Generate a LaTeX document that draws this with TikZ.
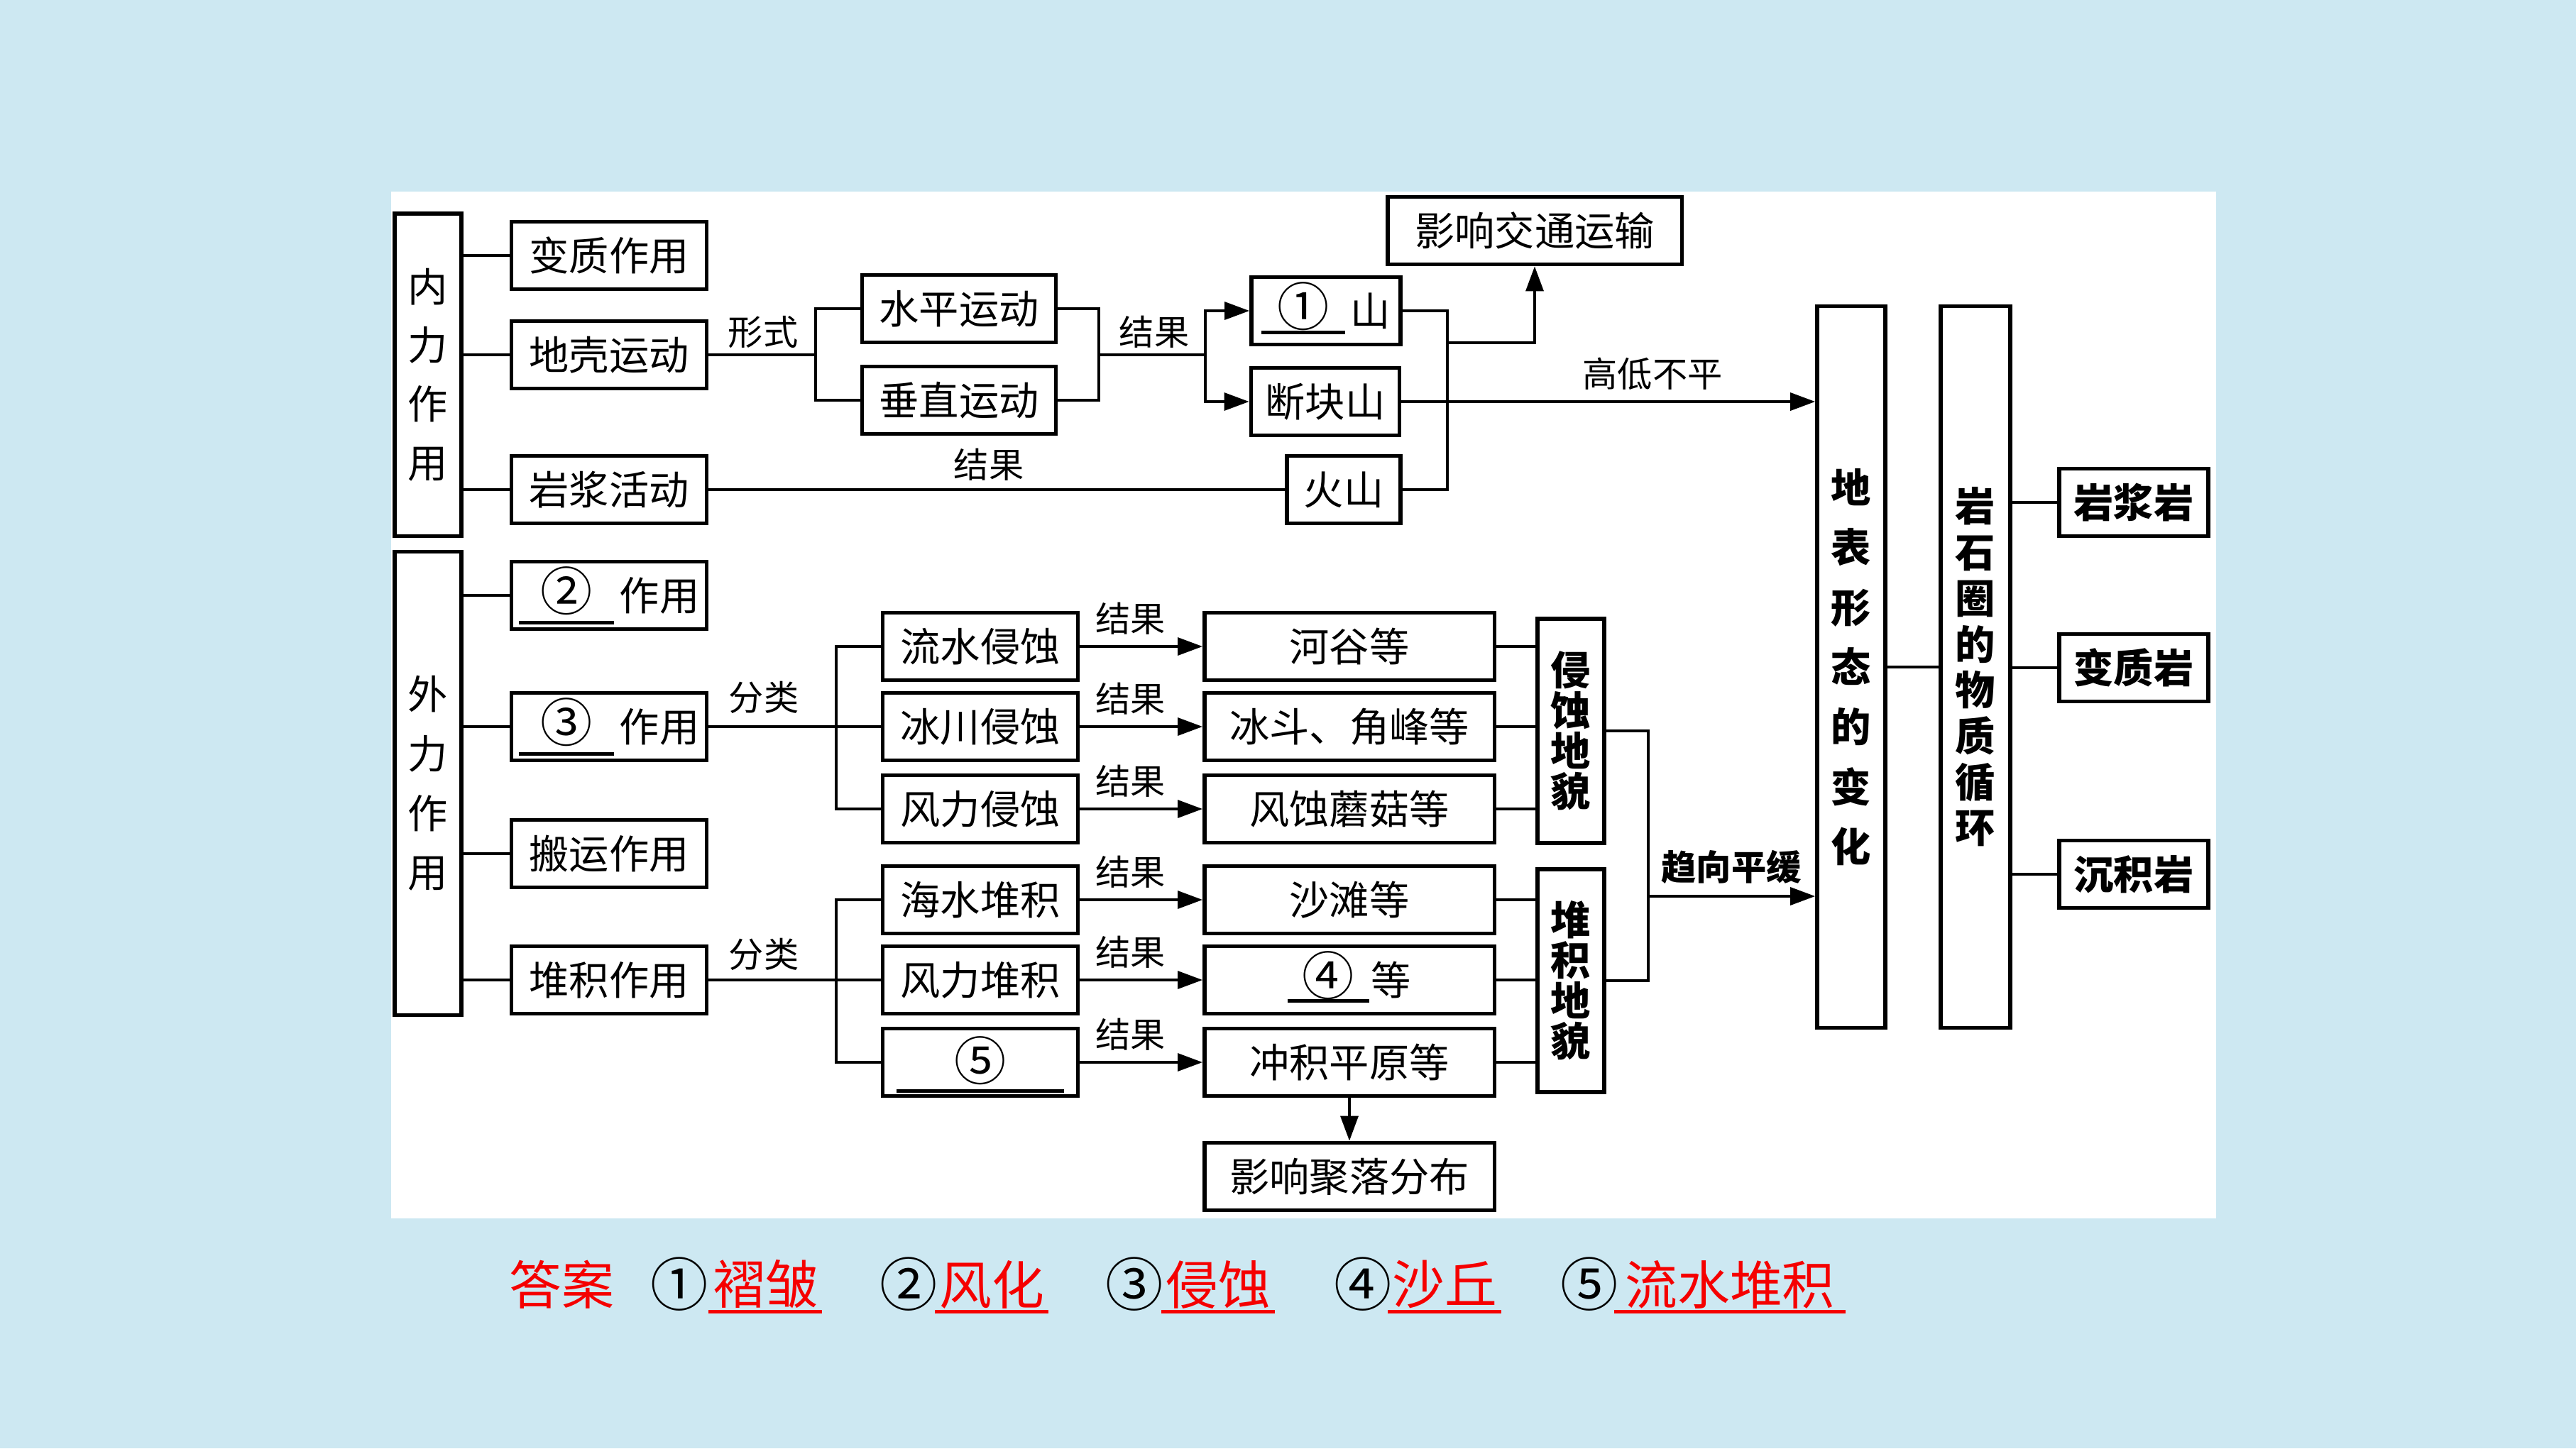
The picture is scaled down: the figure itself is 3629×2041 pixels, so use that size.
\documentclass[tikz,border=0pt]{standalone}
\usepackage{fontspec}
\setmainfont{Noto Sans CJK SC}
\usepackage{graphicx}
\usepackage{tikz}
\usetikzlibrary{arrows.meta}

\definecolor{bgblue}{RGB}{205,232,242}
\definecolor{ansred}{RGB}{245,0,0}
\newcommand{\boxfont}{\fontsize{16}{23.5}\selectfont}
\newcommand{\labfont}{\fontsize{14}{16}\selectfont}
% blank with underline: width, rule raise, text
\newcommand{\blank}[3]{\makebox[#1]{#3}\llap{\smash{\rule[#2]{#1}{1.4pt}}}}
\newcommand{\circnum}[1]{\smash{\scalebox{1.3}{#1}}}

\begin{document}
\begin{tikzpicture}[x=0.01cm, y=-0.01cm,
	box/.style={draw, line width=1.5pt, inner sep=0pt, minimum height=0.95cm, font=\boxfont},
	tall/.style={box, minimum width=0.94cm, align=center},
	lab/.style={inner sep=1pt, font=\labfont},
	conn/.style={line width=1.3pt},
	arr/.style={conn, -{Triangle[length=10pt,width=7pt]}},
	ans/.style={inner sep=0pt, font=\fontsize{21}{24}\selectfont},
	]
	%\draw[help lines] (0,0) grid[step=100] (3629,2041);
	\fill[bgblue] (0,0) rectangle (3629,2041);
	\useasboundingbox (0,0) rectangle (3629,2041);
	\fill[white] (551,270) rectangle (3122,1717);

	% endogenic part
	\node[tall, minimum height=4.54cm] (neili) at (603,528) {内\\力\\作\\用};
	\node[box, minimum width=2.75cm] (bianzhi) at (858,360) {变质作用};
	\node[box, minimum width=2.75cm] (diqiao) at (858,500) {地壳运动};
	\node[box, minimum width=2.75cm] (yanjiang) at (858,690) {岩浆活动};
	\node[box, minimum width=2.73cm] (shuiping) at (1351,435) {水平运动};
	\node[box, minimum width=2.73cm] (chuizhi) at (1351,564) {垂直运动};
	\node[box, minimum width=2.10cm] (zhezhou) at (1868,438) {\blank{1.18cm}{-0.12cm}{\circnum{①}}\hspace{0.07cm}山};
	\node[box, minimum width=2.09cm] (duankuai) at (1867,566) {断块山};
	\node[box, minimum width=1.60cm] (huoshan) at (1893,690) {火山};
	\node[box, minimum width=4.14cm] (jiaotong) at (2162,325) {影响交通运输};

	\node[lab] (xingshi) at (1075,468) {形式};
	\node[lab] (jg1) at (1626,468) {结果};
	\node[lab] (jg2) at (1393,655) {结果};
	\node[lab] (gaodi) at (2328,527) {高低不平};

	\foreach \n in {bianzhi,diqiao,yanjiang}
		\draw[conn] (neili.east |- \n.west) -- (\n.west);
	\coordinate (xs) at (1149,500);
	\draw[conn] (diqiao.east) -- (xs);
	\draw[conn] (shuiping.west) -| (xs) |- (chuizhi.west);
	\coordinate (hb) at (1548,500);
	\coordinate (fz) at (1698,500);
	\draw[conn] (shuiping.east) -| (hb) |- (chuizhi.east);
	\draw[conn] (hb) -- (fz);
	\draw[arr] (fz) |- (zhezhou.west);
	\draw[arr] (fz) |- (duankuai.west);
	\draw[conn] (yanjiang.east) -- (huoshan.west);
	\coordinate (sx) at (2039,483);
	\draw[conn] (zhezhou.east) -| (sx) |- (huoshan.east);
	\draw[arr] (sx) -| (jiaotong.south);

	% surface and rock cycle
	\node[tall, minimum width=0.96cm, minimum height=10.16cm, font=\bfseries\fontsize{16}{24}\selectfont] (dibiao) at (2608,940) {地\\表\\形\\态\\的\\变\\化};
	\node[tall, minimum width=0.98cm, minimum height=10.16cm, font=\bfseries\fontsize{16}{18.4}\selectfont] (yanshi) at (2783,940) {岩\\石\\圈\\的\\物\\质\\循\\环};
	\node[box, minimum width=2.10cm, font=\bfseries\boxfont] (yjy) at (3006,708) {岩浆岩};
	\node[box, minimum width=2.10cm, font=\bfseries\boxfont] (bzy) at (3006,941) {变质岩};
	\node[box, minimum width=2.10cm, font=\bfseries\boxfont] (cjy) at (3006,1232) {沉积岩};

	\draw[arr] (duankuai.east) -- (duankuai.east -| dibiao.west);
	\draw[conn] (dibiao.east) -- (yanshi.west);
	\foreach \n in {yjy,bzy,cjy}
		\draw[conn] (yanshi.east |- \n.west) -- (\n.west);

	% exogenic part
	\node[tall, minimum height=6.52cm, font=\fontsize{16}{23.8}\selectfont] (waili) at (603,1104) {外\\力\\作\\用};
	\node[box, minimum width=2.75cm] (fenghua) at (858,839) {\blank{1.34cm}{-0.2cm}{\circnum{②}}\hspace{0.08cm}作用};
	\node[box, minimum width=2.75cm] (qinshi) at (858,1024) {\blank{1.34cm}{-0.2cm}{\circnum{③}}\hspace{0.08cm}作用};
	\node[box, minimum width=2.75cm] (banyun) at (858,1203) {搬运作用};
	\node[box, minimum width=2.75cm] (duiji) at (858,1381) {堆积作用};

	\node[box, minimum width=2.75cm] (lsqs) at (1381,911) {流水侵蚀};
	\node[box, minimum width=2.75cm] (bcqs) at (1381,1024) {冰川侵蚀};
	\node[box, minimum width=2.75cm] (flqs) at (1381,1140) {风力侵蚀};
	\node[box, minimum width=2.75cm] (hsdj) at (1381,1268) {海水堆积};
	\node[box, minimum width=2.75cm] (fldj) at (1381,1381) {风力堆积};
	\node[box, minimum width=2.75cm, text height=0.55cm, text depth=0.05cm] (liushui) at (1381,1497) {\blank{2.35cm}{-0.18cm}{\circnum{⑤}}};

	\node[box, minimum width=4.08cm] (hegu) at (1901,911) {河谷等};
	\node[box, minimum width=4.08cm] (bingdou) at (1901,1024) {冰斗、角峰等};
	\node[box, minimum width=4.08cm] (mogu) at (1901,1140) {风蚀蘑菇等};
	\node[box, minimum width=4.08cm] (shatan) at (1901,1268) {沙滩等};
	\node[box, minimum width=4.08cm] (shaqiu) at (1901,1381) {\blank{1.15cm}{-0.1cm}{\circnum{④}}\hspace{0.03cm}等};
	\node[box, minimum width=4.08cm] (chongji) at (1901,1497) {冲积平原等};
	\node[box, minimum width=4.08cm] (juluo) at (1901,1658) {影响聚落分布};

	\node[tall, minimum height=3.16cm, font=\bfseries\fontsize{16}{16.2}\selectfont] (qsdm) at (2213,1030) {侵\\蚀\\地\\貌};
	\node[tall, minimum height=3.14cm, font=\bfseries\fontsize{16}{16.2}\selectfont] (djdm) at (2213,1382) {堆\\积\\地\\貌};

	\node[lab] (fl1) at (1076,983) {分类};
	\node[lab] (fl2) at (1076,1345) {分类};
	\node[lab, font=\bfseries\labfont] (qxph) at (2439,1222) {趋向平缓};

	\foreach \n in {fenghua,qinshi,banyun,duiji}
		\draw[conn] (waili.east |- \n.west) -- (\n.west);
	\coordinate (qs) at (1178,1024);
	\draw[conn] (qinshi.east) -- (bcqs.west);
	\draw[conn] (lsqs.west) -| (qs) |- (flqs.west);
	\coordinate (dj) at (1178,1381);
	\draw[conn] (duiji.east) -- (fldj.west);
	\draw[conn] (hsdj.west) -| (dj) |- (liushui.west);

	\foreach \a/\b/\i in {lsqs/hegu/1, bcqs/bingdou/2, flqs/mogu/3, hsdj/shatan/4, fldj/shaqiu/5, liushui/chongji/6}
		\draw[arr] (\a.east) -- node[lab, above=3pt, xshift=-0.15cm] (res\i) {结果} (\b.west);
	\foreach \n in {hegu,bingdou,mogu}
		\draw[conn] (\n.east) -- (\n.east -| qsdm.west);
	\foreach \n in {shatan,shaqiu,chongji}
		\draw[conn] (\n.east) -- (\n.east -| djdm.west);
	\coordinate (ph) at (2322,1263);
	\draw[conn] (qsdm.east) -| (ph) |- (djdm.east);
	\draw[arr] (ph) -- (ph -| dibiao.west);
	\draw[arr] (chongji.south) -- (juluo.north);

	% answers
	\node[ans, text=ansred] (ans) at (791,1810) {答案};
	\node[ans] (n1) at (957,1810) {\scalebox{1.1}{①}};
	\node[ans, text=ansred] (w1) at (1078,1810) {\blank{1.59cm}{-0.13cm}{褶皱}};
	\node[ans] (n2) at (1280,1810) {\scalebox{1.1}{②}};
	\node[ans, text=ansred] (w2) at (1397,1810) {\blank{1.59cm}{-0.13cm}{风化}};
	\node[ans] (n3) at (1598,1810) {\scalebox{1.1}{③}};
	\node[ans, text=ansred] (w3) at (1716,1810) {\blank{1.59cm}{-0.13cm}{侵蚀}};
	\node[ans] (n4) at (1920,1810) {\scalebox{1.1}{④}};
	\node[ans, text=ansred] (w4) at (2035,1810) {\blank{1.59cm}{-0.13cm}{沙丘}};
	\node[ans] (n5) at (2239,1810) {\scalebox{1.1}{⑤}};
	\node[ans, text=ansred] (w5) at (2437,1810) {\blank{3.26cm}{-0.13cm}{流水堆积}};
\end{tikzpicture}
\end{document}
